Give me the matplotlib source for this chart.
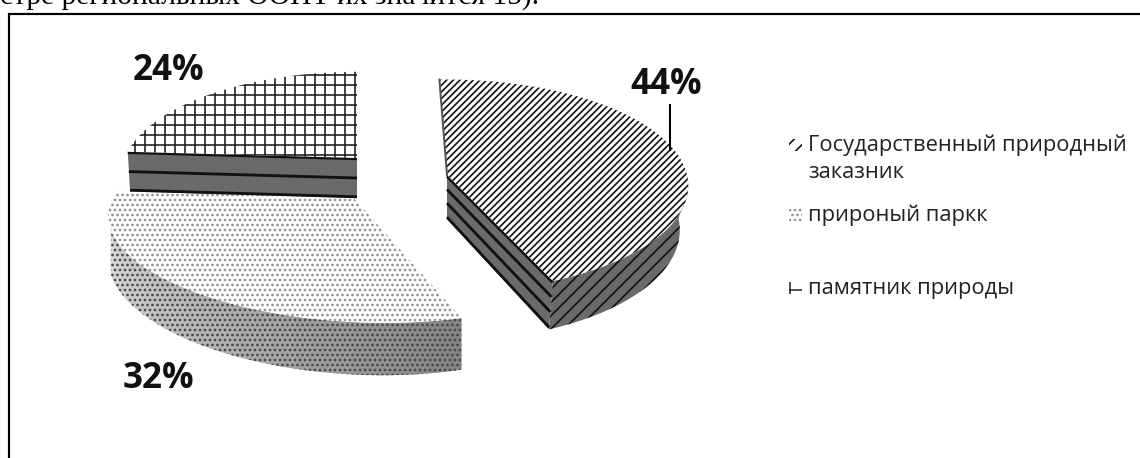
import numpy as np
import matplotlib
matplotlib.use('Agg')
import matplotlib.pyplot as plt
from matplotlib.patches import Polygon

categories = ['Государственный природный\nзаказник', 'прироный паркк', 'памятник природы']
shares = [44, 32, 24]
share_labels = ['44%', '32%', '24%']
caption = 'стре региональных ООПТ их значится 15).'

plt.rcParams['font.family'] = ['Open Sans', 'DejaVu Sans']
DPI = 120
fig = plt.figure(figsize=(1140 / DPI, 458 / DPI), dpi=DPI)
ax = fig.add_axes([0, 0, 1, 1])
ax.set_xlim(0, 1140)
ax.set_ylim(458, 0)
ax.axis('off')

# where each exploded slice sits on the page, in pixels
slices = {
  0: dict(cx=447, cy=175, rim_cy=175, a=240, b=105, k=0.10, shear=0, depth=44, shrink=0.965, rot=-2),
  1: dict(cx=353, cy=197, rim_cy=212, a=240, b=88, k=0.20, shear=15, depth=42, shrink=1.0, rot=0),
  2: dict(cx=357, cy=158, rim_cy=158, a=232, b=100, k=0.16, shear=0, depth=40, shrink=0.99, rot=0),
}


class HatchPolygon(Polygon):
  """ hatch.linewidth is only read when drawing, so keep one per patch """

  def __init__(self, *args, hatch_width=1.0, **kwargs):
    super().__init__(*args, **kwargs)
    self.hatch_width = hatch_width

  def draw(self, renderer):
    plt.rcParams['hatch.linewidth'] = self.hatch_width
    super().draw(renderer)


def project(g, t, low=False):
  """ Tilted view of a point on the pie rim, t in degrees clockwise from 12 o'clock """
  t = np.radians(np.asarray(t, dtype=float) + g['rot'])
  u, v = np.sin(t), np.cos(t)
  s = 1 / (1 + g['k'] * v)
  shrink = g['shrink'] if low else 1
  x = g['cx'] + g['a'] * u * s * shrink
  y = g['rim_cy'] - g['b'] * v * s + g['shear'] * u + (g['depth'] * s if low else 0)
  return x, y


def centre(g, low=False):
  return g['cx'], g['cy'] + (g['depth'] if low else 0)


def hatched(points, face, hatch, edge, width, zorder):
  ax.add_patch(HatchPolygon(points, closed=True, facecolor=face, edgecolor=edge, hatch=hatch,
                            linewidth=0, zorder=zorder, hatch_width=width))


def rim_wall(g, t0, t1):
  ts = np.linspace(t0, t1, 60)
  top = np.column_stack(project(g, ts))
  low = np.column_stack(project(g, ts[::-1], low=True))
  return np.vstack([top, low])


def flat_wall(g, t, fractions, zorder):
  """ Straight cut face from the centre to the rim, with dark bands along it """
  c_top, c_low = np.array(centre(g)), np.array(centre(g, low=True))
  e_top = np.array(project(g, t))
  e_low = np.array(project(g, t, low=True))
  ax.add_patch(Polygon([c_top, e_top, e_low, c_low], facecolor='#6a6a6a', edgecolor='none', zorder=zorder))
  for f in fractions:
    a = c_top + (c_low - c_top) * f
    b = e_top + (e_low - e_top) * f
    ax.plot([a[0], b[0]], [a[1], b[1]], color='#111111', lw=1.7, zorder=zorder + 0.1, solid_capstyle='butt')


def top_face(g, t0, t1):
  ts = np.linspace(t0, t1, 160)
  rim = np.column_stack(project(g, ts))
  return np.vstack([[centre(g)], rim])


edges = np.cumsum([0] + shares) * 360 / sum(shares)

# middle slice first, the other two sit over it
g = slices[1]
t0, t1 = edges[1], edges[2]
ts = np.linspace(t0, 250, 40)
for i in range(len(ts) - 1):
  grey = 0.52 + 0.33 * i / (len(ts) - 2)
  strip = rim_wall(g, ts[i], ts[i + 1] + 0.3)
  ax.add_patch(Polygon(strip, facecolor=str(grey), edgecolor='none', zorder=2))
hatched(rim_wall(g, t0, 250), 'none', '....', '#444444', 0.5, 2.1)
hatched(top_face(g, t0, t1), 'white', '....', '#8f8f8f', 0.5, 3)

g = slices[2]
t0, t1 = edges[2], edges[3]
flat_wall(g, t0, [0.02, 0.5, 0.97], 4)
hatched(top_face(g, t0, t1), 'white', '++', '#222222', 0.8, 5)

g = slices[0]
t0, t1 = edges[0], edges[1]
hatched(rim_wall(g, 92, t1), '#6a6a6a', '///', '#111111', 1.0, 6.1)
flat_wall(g, t1, [0.03, 0.33, 0.64, 0.96], 6.2)
hatched(top_face(g, t0, t1), 'white', '//////', '#111111', 1.25, 7)
sx, sy = project(g, t0)
ax.plot([sx, g['cx']], [sy, g['cy']], color='#555555', lw=1.2, zorder=7.1)

# share labels
label_pos = [(666, 85), (158, 379), (168, 71)]
label_size = 21
for txt, (x, y) in zip(share_labels, label_pos):
  ax.text(x, y, txt, fontsize=label_size, fontweight='bold', color='#111111',
          ha='center', va='center', zorder=10)
ax.plot([670, 670], [105, 150], color='black', lw=1.2, zorder=8)

# legend, drawn by hand since the rows are unevenly spaced
legend_y = [145, 215, 288]
legend_hatch = [('///', '#111111', 1.15), ('....', '#8f8f8f', 0.5), ('+', '#333333', 0.8)]
for name, y, (h, col, w) in zip(categories, legend_y, legend_hatch):
  corners = [(789, y - 6), (802, y - 6), (802, y + 6), (789, y + 6)]
  hatched(corners, 'white', h, col, w, 3)
  ax.text(808, y - 10, name, fontsize=13.1, color='#222222', ha='left', va='top', linespacing=1.34)

# page around the chart
ax.plot([9, 9, 1140], [458, 14, 14], color='black', lw=1.3, solid_joinstyle='miter', clip_on=True)
ax.text(0, 4, caption, fontsize=17.7, family=['Liberation Serif'], color='black', ha='left', va='baseline')

fig.savefig('out.png', dpi=DPI)
